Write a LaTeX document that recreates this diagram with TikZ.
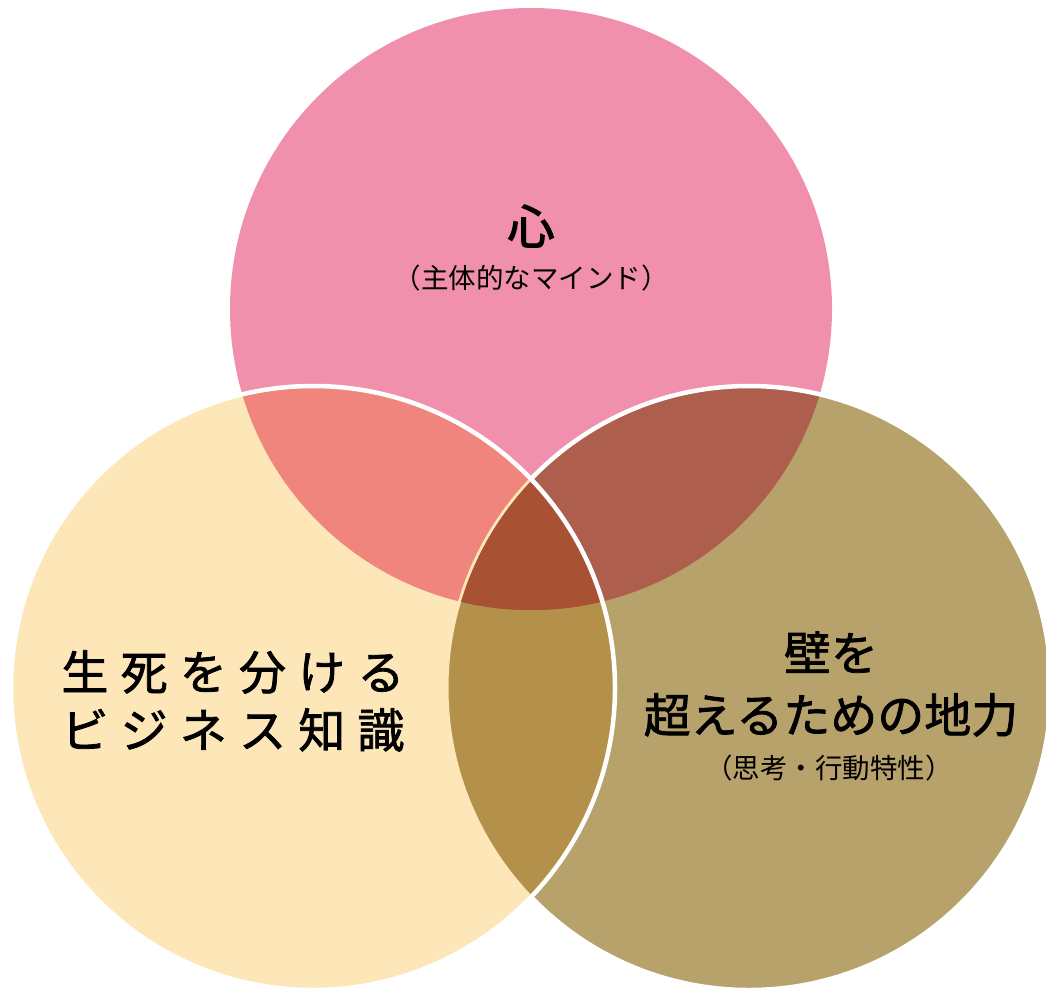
\documentclass[tikz,border=0pt]{standalone}
\usepackage{fontspec}
\newfontfamily\jp{Noto Sans CJK JP}
\newfontfamily\jpm[FakeBold=1.6]{Noto Sans CJK JP}
\newfontfamily\jpb[FakeBold=2.6]{Noto Sans CJK JP}
\begin{document}
\begin{tikzpicture}[x=1pt,y=-1pt,
  title/.style={font=\jpm\fontsize{46}{58}\selectfont, align=center, text=black, inner sep=0pt},
  subtitle/.style={font=\jp\fontsize{27.5}{30}\selectfont, text=black, inner sep=0pt},
  ring/.style={white, line width=4.5pt}]
\definecolor{cPink}{HTML}{F090AC}
\definecolor{cYellow}{HTML}{FDE7B8}
\definecolor{cOlive}{HTML}{B8A26C}
\definecolor{cPY}{HTML}{EF857C}
\definecolor{cPO}{HTML}{AD5E4C}
\definecolor{cYO}{HTML}{B3914A}
\definecolor{cPYO}{HTML}{A85233}
\useasboundingbox (0,0) rectangle (1046,988);
\clip (0,0) rectangle (1046,988);
\coordinate (T) at (531,309);
\coordinate (L) at (313,688);
\coordinate (R) at (749,688);
% top circle
\fill[cPink] (T) circle[radius=301pt];
% right circle
\fill[cOlive] (R) circle[radius=302pt];
\begin{scope}
  \clip (R) circle[radius=302pt];
  \fill[cPO] (T) circle[radius=301pt];
\end{scope}
\draw[ring] (R) circle[radius=302pt];
% left circle
\fill[cYellow] (L) circle[radius=302pt];
\begin{scope}
  \clip (L) circle[radius=302pt];
  \fill[cPY] (T) circle[radius=301pt];
  \fill[cYO] (R) circle[radius=302pt];
  \begin{scope}
    \clip (T) circle[radius=301pt];
    \fill[cPYO] (R) circle[radius=302pt];
  \end{scope}
  \draw[cYellow, line width=3pt] (R) circle[radius=302pt];
  \begin{scope}
    \clip (T) circle[radius=301pt];
    \clip (R) circle[radius=300.5pt];
    \fill[cPYO] (R) circle[radius=302pt];
  \end{scope}
\end{scope}
\draw[ring] (L) circle[radius=302pt];
% texts
\node[title, font=\jpb\fontsize{47}{58}\selectfont] (kokoro) at (531,226) {心};
\node[subtitle] (kokorosub) at (531,278) {（主体的なマインド）};
\node[title, font=\jpm\fontsize{47}{58}\selectfont\addfontfeature{LetterSpace=26}] (chishiki) at (233,701) {生死を分ける\\ビジネス知識};
\node[title, font=\jpm\fontsize{47}{62}\selectfont] (jiriki) at (831,684) {壁を\\超えるための地力};
\node[subtitle] (jirikisub) at (829,768) {（思考・行動特性）};
\end{tikzpicture}
\end{document}
